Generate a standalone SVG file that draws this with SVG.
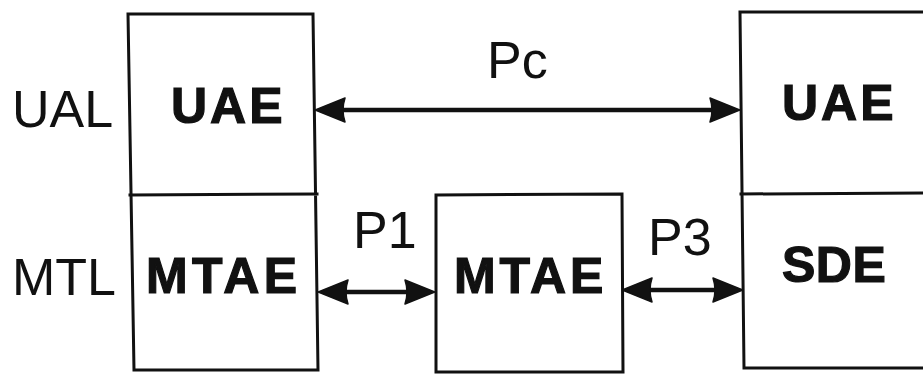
<svg xmlns="http://www.w3.org/2000/svg" width="923" height="374" viewBox="0 0 923 374">
<style>
.box{fill:none;stroke:#111;stroke-width:3;stroke-linecap:square}
.lbl{font-family:"Liberation Sans",Arial,sans-serif;font-size:52px;fill:#111}
.ent{font-family:"Liberation Sans",Arial,sans-serif;font-size:50px;font-weight:bold;fill:#111;stroke:#111;stroke-width:1.2}
.conn{stroke:#111;stroke-width:4.5;fill:none;marker-start:url(#ah);marker-end:url(#ah)}
</style>
<defs>
<marker id="ah" viewBox="0 0 31 26" refX="21" refY="13" markerWidth="31" markerHeight="26" markerUnits="userSpaceOnUse" orient="auto-start-reverse">
<path d="M31,13 L1,1 Q5,13 1,25 Z" fill="#111" stroke="#111" stroke-width="1.5" stroke-linejoin="round"/>
</marker>
</defs>
<rect width="923" height="374" fill="#fff"/>
<g id="layer-labels">
<text class="lbl" x="12" y="127">UAL</text>
<text class="lbl" x="12" y="295">MTL</text>
</g>
<g id="left-stack">
<path class="box" d="M128,14 L313,14 L318,370 L134,370 Z M130,195 L317,194"/>
<text class="ent" x="171" y="123" letter-spacing="3">UAE</text>
<text class="ent" x="146" y="293" letter-spacing="4.4">MTAE</text>
</g>
<g id="middle-mtae">
<path class="box" d="M436,195 L622,194 L623,372 L436,372 Z"/>
<text class="ent" x="454" y="293" letter-spacing="3.8">MTAE</text>
</g>
<g id="right-stack">
<path class="box" d="M923,12 L740,12 L744,368 L923,368 M741,194 L923,193"/>
<text class="ent" x="782" y="120" letter-spacing="3">UAE</text>
<text class="ent" x="782" y="282" letter-spacing="0.5">SDE</text>
</g>
<g id="connectors">
<line class="conn" x1="325" y1="110" x2="730" y2="110"/>
<line class="conn" x1="328" y1="292" x2="425" y2="292"/>
<line class="conn" x1="632" y1="290" x2="733" y2="290"/>
<text class="lbl" x="487" y="78">Pc</text>
<text class="lbl" x="353" y="248" font-size="50">P1</text>
<text class="lbl" x="648" y="255">P3</text>
</g>
</svg>
